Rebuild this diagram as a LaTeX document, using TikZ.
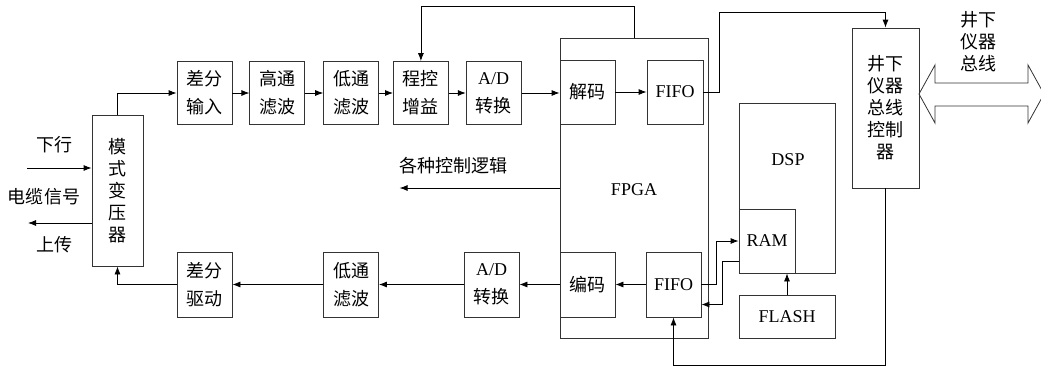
\documentclass[tikz,border=0pt]{standalone}
\usepackage{fontspec}
\setmainfont{Liberation Serif}
\newfontfamily\cjk{Noto Sans CJK SC}
\usetikzlibrary{positioning,arrows.meta}

\begin{document}
\begin{tikzpicture}[x=1pt,y=-1pt,>={Latex[length=8pt,width=6pt]},
			line width=0.8pt,
			node distance=17pt,
			every node/.style={
				align=center,
				inner sep=0pt,
				font=\cjk\fontsize{18}{28}\selectfont
			},
			blk/.style={draw=black!80,minimum width=55pt,minimum height=63pt},
			tall/.style={font=\cjk\fontsize{18}{22}\selectfont},
			lat/.style={font=\fontsize{18}{22}\selectfont}]
			
			\useasboundingbox[fill=white](0,0) rectangle (1041,370);
			
			% left side
			\node[blk,tall,minimum width=51pt,minimum height=151pt] (mode) at (117.5,190.5){模\\式\\变\\压\\器};
			
			\node (down) at (54,145){下行};
			\node (cable) at (44,197){电缆信号};
			\node (up) at (54,245){上传};
			\coordinate (inL) at (27,168);
			\coordinate (outL) at (28,223);
			
			% receive chain
			\node[blk] (dfin) at (204.5,93){差分\\输入};
			\node[blk,right=of dfin] (hpf){高通\\滤波};
			\node[blk,right=18pt of hpf] (lpfa){低通\\滤波};
			\node[blk,right=14pt of lpfa] (pga){程控\\增益};
			\node[blk,right=of pga] (adca){{\rmfamily A/D}\\转换};
			
			% send chain
			\node[blk,minimum height=65pt] (dfdrv) at (204.5,284.5){差分\\驱动};
			\node[blk,minimum height=65pt] (lpfb) at (351,284.5){低通\\滤波};
			\node[blk,minimum height=65pt] (adcb) at (491.5,284.5){{\rmfamily A/D}\\转换};
			
			% FPGA
			\node[draw=black!80,minimum width=148pt,minimum height=300pt] (fpga) at (634,188){};
			\node[lat] (fpgatxt) at (634,190){FPGA};
			\node[blk,minimum height=64pt] (dec) at (587.5,92){解码};
			\node[blk,lat,minimum width=56pt,minimum height=64pt] (fifoa) at (675,92){FIFO};
			\node[blk,minimum height=65pt] (enc) at (587.5,284.5){编码};
			\node[blk,lat,minimum height=65pt] (fifob) at (673.5,284.5){FIFO};
			\node (logic) at (453,166){各种控制逻辑};
			
			% DSP
			\node[draw=black!80,minimum width=96pt,minimum height=170pt] (dsp) at (787,188){};
			\node[lat] (dsptxt) at (788,160){DSP};
			\node[blk,lat,minimum width=56pt,minimum height=64pt] (ram) at (767,241){RAM};
			\node[draw=black!80,lat,minimum width=96pt,minimum height=43pt] (flash) at (787,316.5){FLASH};
			
			% bus controller
			\node[draw=black!80,tall,minimum width=67pt,minimum height=160pt] (ctrl) at (885.5,108){井下\\仪器\\总线\\控制\\器};
			\node[tall] (buslbl) at (978,42){井下\\仪器\\总线};
			\draw[black!80] (919,94) -- (935,65) -- (935,83) -- (1028,83) -- (1028,65) -- (1044,94)
				-- (1028,123) -- (1028,106) -- (935,106) -- (935,123) -- cycle;
			
			% connectors
			\draw[->](inL)--(inL -| mode.west);
			
			\draw[->](outL -| mode.west)--(outL);
			
			\draw[->](mode.north)|-(dfin.west);
			
			\draw[->](dfin)--(hpf);
			
			\draw[->](hpf)--(lpfa);
			
			\draw[->](lpfa)--(pga);
			
			\draw[->](pga)--(adca);
			
			\draw[->](adca.east)--(adca.east -| dec.west);
			
			\draw[->](dec)--(fifoa);
			
			\draw[->](fpga.north)--++(0,-31)-|(pga.north);
			
			\draw[->](fifoa.east)--++(16,0)--++(0,-80)-|(ctrl.north);
			
			\draw[->](fpga.west)--++(-160,0);
			
			\draw[->](fifob)--(enc);
			
			\draw[->](enc.west)--(adcb.east);
			
			\draw[->](adcb)--(lpfb);
			
			\draw[->](lpfb)--(dfdrv);
			
			\draw[->](dfdrv.west)-|(mode.south);
			
			\draw[->](fifob.east)--++(15,0)|-(ram.west);
			
			\draw[->]([yshift=-20pt]ram.west)--++(-16,0)|-([yshift=-20pt]fifob.east);
			
			\draw[->](flash.north)--(flash.north |- ram.south);
			
			\draw[->](ctrl.south)--++(0,177)-|(fifob.south);
			
		\end{tikzpicture}
\end{document}
